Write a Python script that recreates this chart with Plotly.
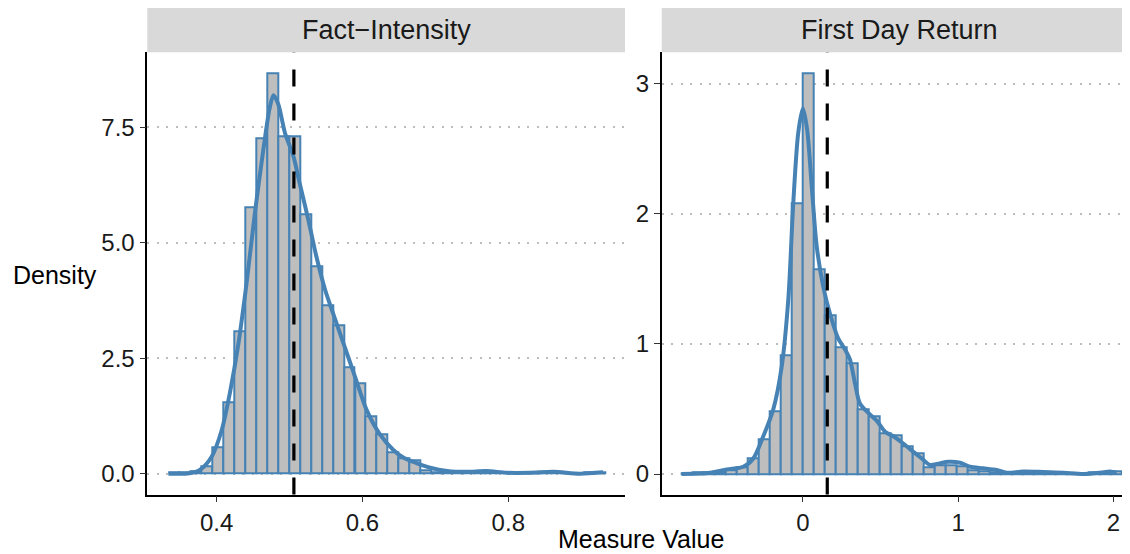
import plotly.graph_objects as go

# ---------------- data ----------------
panel_titles = ["Fact\u2212Intensity", "First Day Return"]

fi_bin_width = 0.01498
fi_bin_centers = [0.342, 0.357, 0.372, 0.387, 0.402, 0.417, 0.432, 0.447, 0.462, 0.477,
                  0.492, 0.507, 0.522, 0.537, 0.552, 0.567, 0.582, 0.597, 0.612, 0.627,
                  0.642, 0.657, 0.672, 0.687, 0.702, 0.716, 0.731, 0.746, 0.761, 0.776,
                  0.791, 0.806, 0.821, 0.836, 0.851, 0.866, 0.881, 0.896, 0.911, 0.926]
fi_bin_density = [0.02, 0.03, 0.06, 0.16, 0.58, 1.55, 3.09, 5.77, 7.25, 8.67,
                  7.30, 7.30, 5.61, 4.49, 3.64, 3.21, 2.31, 1.95, 1.24, 0.86,
                  0.47, 0.33, 0.28, 0.08, 0.04, 0.04, 0.03, 0.03, 0.05, 0.05,
                  0.03, 0.02, 0.02, 0.02, 0.04, 0.03, 0.01, 0.01, 0.02, 0.04]
fi_kde_x = [0.334, 0.363, 0.377, 0.393, 0.407, 0.418, 0.430, 0.441, 0.453, 0.464,
            0.473, 0.478, 0.4845, 0.494, 0.505, 0.514, 0.526, 0.537, 0.549, 0.560,
            0.574, 0.590, 0.606, 0.624, 0.642, 0.656, 0.674, 0.693, 0.716, 0.743,
            0.770, 0.798, 0.830, 0.862, 0.898, 0.930]
fi_kde_y = [0.0, 0.01, 0.08, 0.36, 0.94, 1.73, 2.82, 4.11, 5.70, 7.00,
            7.93, 8.19, 8.00, 7.36, 6.89, 6.28, 5.48, 4.69, 3.97, 3.46,
            2.82, 2.09, 1.37, 0.85, 0.52, 0.35, 0.23, 0.13, 0.06, 0.04,
            0.06, 0.02, 0.02, 0.04, 0.0, 0.03]
fi_mean = 0.506

fdr_bin_width = 0.0708
fdr_bin_centers = [-0.744, -0.673, -0.602, -0.531, -0.461, -0.390, -0.319, -0.248, -0.177, -0.107,
                   -0.036, 0.035, 0.106, 0.177, 0.247, 0.318, 0.389, 0.460, 0.531, 0.601,
                   0.672, 0.743, 0.814, 0.885, 0.955, 1.026, 1.097, 1.168, 1.239, 1.309,
                   1.380, 1.451, 1.522, 1.593, 1.663, 1.734, 1.805, 1.876, 1.947, 2.017]
fdr_bin_density = [0.005, 0.01, 0.01, 0.015, 0.03, 0.05, 0.12, 0.27, 0.48, 0.91,
                   2.08, 3.08, 1.57, 1.22, 0.97, 0.85, 0.50, 0.445, 0.31, 0.30,
                   0.21, 0.16, 0.055, 0.07, 0.07, 0.06, 0.03, 0.025, 0.015, 0.01,
                   0.012, 0.015, 0.012, 0.01, 0.01, 0.008, 0.006, 0.01, 0.015, 0.02]
fdr_kde_x = [-0.78, -0.598, -0.49, -0.384, -0.319, -0.255, -0.19, -0.137, -0.094, -0.062,
             -0.030, 0.0, 0.028, 0.057, 0.089, 0.131, 0.175, 0.228, 0.270, 0.303,
             0.335, 0.368, 0.421, 0.475, 0.529, 0.582, 0.646, 0.711, 0.765, 0.818,
             0.872, 0.936, 1.012, 1.076, 1.162, 1.248, 1.312, 1.419, 1.548, 1.677,
             1.806, 1.913, 1.978, 2.02]
fdr_kde_y = [0.0, 0.01, 0.036, 0.056, 0.12, 0.29, 0.50, 0.82, 1.34, 2.08,
             2.62, 2.81, 2.64, 2.21, 1.75, 1.44, 1.23, 1.04, 0.96, 0.88,
             0.70, 0.54, 0.47, 0.41, 0.325, 0.29, 0.235, 0.17, 0.12, 0.07,
             0.08, 0.094, 0.087, 0.056, 0.044, 0.031, 0.01, 0.02, 0.016, 0.01,
             0.0, 0.01, 0.02, 0.01]
fdr_mean = 0.157

fi_xticks = [0.4, 0.6, 0.8]
fi_yticks = [0.0, 2.5, 5.0, 7.5]
fdr_xticks = [0, 1, 2]
fdr_yticks = [0, 1, 2, 3]

# ---------------- styling ----------------
# the page body has an 8px margin; lay the figure out in page pixels minus that offset
OFF = 8
W, H = 1130 - OFF, 554 - OFF
FONT = "Liberation Sans, Arial, Helvetica, sans-serif"
FILL = "#BEBEBE"
BLUE = "#4682B4"
STRIP = "#D9D9D9"

def px(x):
    return (x - OFF) / W

def py(y):
    return 1 - (y - OFF) / H

fig = go.Figure()

def add_panel(xa, ya, centers, dens, bw, kx, ky):
    fig.add_trace(go.Bar(x=centers, y=dens, width=bw, xaxis=xa, yaxis=ya,
                         marker=dict(color=FILL, line=dict(color=BLUE, width=2)),
                         showlegend=False, hoverinfo="skip"))
    fig.add_trace(go.Scatter(x=kx, y=ky, xaxis=xa, yaxis=ya, mode="lines",
                             line=dict(color=BLUE, width=4, shape="spline", smoothing=0.8),
                             showlegend=False, hoverinfo="skip"))

add_panel("x", "y", fi_bin_centers, fi_bin_density, fi_bin_width, fi_kde_x, fi_kde_y)
add_panel("x2", "y2", fdr_bin_centers, fdr_bin_density, fdr_bin_width, fdr_kde_x, fdr_kde_y)

px_l1, px_r1 = 147.3, 625.0
px_l2, px_r2 = 661.7, 1130.0
px_r2_full = 1137.0          # right panel continues past the cropped edge
py_top, py_bot = 52.3, 494.5
strip_top = 7.3

xd1 = [px(px_l1), px(px_r1)]
xd2 = [px(px_l2), 1.0]
yd = [py(py_bot), py(py_top)]

axis_common = dict(showline=True, linecolor="black", linewidth=1.6, ticks="outside",
                   ticklen=6, tickwidth=1.3, tickcolor="#333333", zeroline=False,
                   tickfont=dict(family=FONT, size=24, color="#1A1A1A"), fixedrange=True)
grid = dict(showgrid=True, gridcolor="#BDBDBD", gridwidth=1.5, griddash="2px,7.5px")

fig.update_layout(
    width=W, height=H, autosize=False,
    margin=dict(l=0, r=0, t=0, b=0),
    paper_bgcolor="white", plot_bgcolor="white",
    bargap=0, barmode="overlay",
    xaxis=dict(domain=xd1, anchor="y", range=[0.305, 0.960], tickvals=fi_xticks,
               ticktext=[f"{v:.1f}" for v in fi_xticks], showgrid=False, **axis_common),
    yaxis=dict(domain=yd, anchor="x", range=[-0.45, 9.12], tickvals=fi_yticks,
               ticktext=[f"{v:.1f}" for v in fi_yticks], **grid, **axis_common),
    xaxis2=dict(domain=xd2, anchor="y2", range=[-0.909, 2.106], tickvals=fdr_xticks,
                ticktext=[str(v) for v in fdr_xticks], showgrid=False, **axis_common),
    yaxis2=dict(domain=yd, anchor="x2", range=[-0.157, 3.24], tickvals=fdr_yticks,
                ticktext=[str(v) for v in fdr_yticks], **grid, **axis_common),
)

# mean lines
for xref, yref, m in [("x", "y domain", fi_mean), ("x2", "y2 domain", fdr_mean)]:
    fig.add_shape(type="line", xref=xref, yref=yref, x0=m, x1=m, y0=0, y1=1,
                  line=dict(color="black", width=3.2, dash="17px,17px"), layer="above")

# facet strips
for (l, r, rc), title in zip([(px_l1, px_r1, px_r1), (px_l2, px_r2, px_r2_full)], panel_titles):
    fig.add_shape(type="rect", xref="paper", yref="paper",
                  x0=px(l), x1=px(r), y0=py(py_top), y1=py(strip_top),
                  fillcolor=STRIP, line=dict(width=0), layer="below")
    fig.add_annotation(xref="paper", yref="paper", x=px((l + rc) / 2),
                       y=py((py_top + strip_top) / 2), text=title, showarrow=False,
                       font=dict(family=FONT, size=27, color="#1A1A1A"),
                       xanchor="center", yanchor="middle")

# axis titles
fig.add_annotation(xref="paper", yref="paper", x=px(55), y=py(275), text="Density",
                   showarrow=False, font=dict(family=FONT, size=25, color="black"),
                   xanchor="center", yanchor="middle")
fig.add_annotation(xref="paper", yref="paper", x=px(641), y=py(539),
                   text="Measure Value", showarrow=False,
                   font=dict(family=FONT, size=25, color="black"),
                   xanchor="center", yanchor="middle")

fig.write_html("out.html")
